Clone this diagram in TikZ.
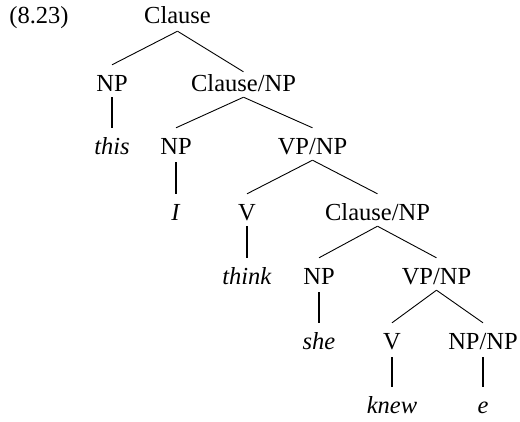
\documentclass[tikz,border=0pt]{standalone}
\usepackage{fontspec}
\setmainfont{Liberation Serif}
\begin{document}
\begin{tikzpicture}[x=1pt,y=-1pt,
  lbl/.style={anchor=base, inner sep=0pt, text height=26pt, text depth=6pt, font=\fontsize{24.5}{29}\selectfont},
  br/.style={line width=0.9pt},
  un/.style={line width=2.4pt}]
\useasboundingbox (0,0) rectangle (520,421);
\node[lbl] (num) at (39,23) {(8.23)};
\node[lbl] (c1) at (177.5,23) {Clause};
\node[lbl] (np1) at (112,91) {NP};
\node[lbl] (c2) at (243.5,91) {Clause/NP};
\node[lbl] (this) at (112,154) {\textit{this}};
\node[lbl] (np2) at (176,154) {NP};
\node[lbl] (vp1) at (312.5,154) {VP/NP};
\node[lbl] (i) at (176,220) {\textit{I}};
\node[lbl] (v1) at (247,220) {V};
\node[lbl] (c3) at (377.5,220) {Clause/NP};
\node[lbl] (think) at (247,284) {\textit{think}};
\node[lbl] (np3) at (319,284) {NP};
\node[lbl] (vp2) at (436.5,284) {VP/NP};
\node[lbl] (she) at (319,349) {\textit{she}};
\node[lbl] (v2) at (392,349) {V};
\node[lbl] (npnp) at (483,349) {NP/NP};
\node[lbl] (knew) at (392,413) {\textit{knew}};
\node[lbl] (e) at (483,413) {\textit{e}};
\draw[br] ([yshift=-2pt]c1.south) -- (np1.north);
\draw[br] ([yshift=-2pt]c1.south) -- ([yshift=-7pt]c2.north);
\draw[un] (np1.south) -- (this.north);
\draw[br] (c2.south) -- (np2.north);
\draw[br] (c2.south) -- (vp1.north);
\draw[un] ([yshift=-2pt]np2.south) -- (i.north);
\draw[br] (vp1.south) -- (v1.north);
\draw[br] (vp1.south) -- (c3.north);
\draw[un] (v1.south) -- (think.north);
\draw[br] (c3.south) -- (np3.north);
\draw[br] (c3.south) -- (vp2.north);
\draw[un] ([yshift=-2pt]np3.south) -- (she.north);
\draw[br] (vp2.south) -- (v2.north);
\draw[br] (vp2.south) -- (npnp.north);
\draw[un] ([yshift=-2pt]v2.south) -- (knew.north);
\draw[un] ([yshift=-2pt]npnp.south) -- (e.north);
\end{tikzpicture}
\end{document}
